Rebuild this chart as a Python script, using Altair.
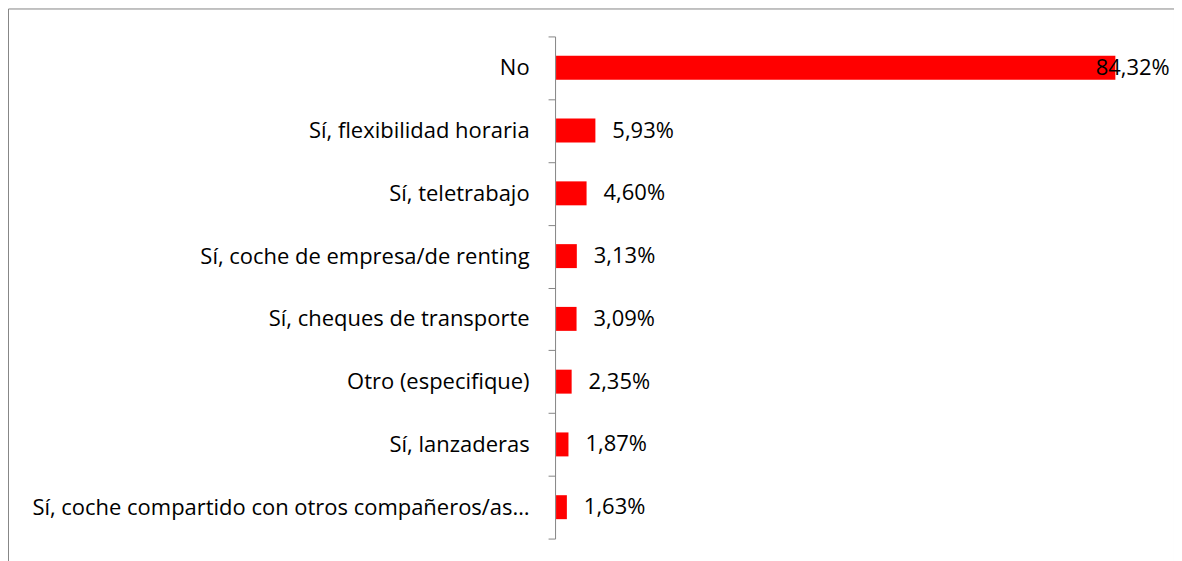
import altair as alt
import pandas as pd

categories = [
    "No",
    "Sí, flexibilidad horaria",
    "Sí, teletrabajo",
    "Sí, coche de empresa/de renting",
    "Sí, cheques de transporte",
    "Otro (especifique)",
    "Sí, lanzaderas",
    "Sí, coche compartido con otros compañeros/as…",
]
values = [84.32, 5.93, 4.60, 3.13, 3.09, 2.35, 1.87, 1.63]
labels = ["84,32%", "5,93%", "4,60%", "3,13%", "3,09%", "2,35%", "1,87%", "1,63%"]

df = pd.DataFrame({"cat": categories, "value": values, "label": labels})

FONT = "Open Sans"
FS = 22

y = alt.Y(
    "cat:N",
    sort=categories,
    title=None,
    scale=alt.Scale(range=[28, 531], paddingInner=0, paddingOuter=0),
    axis=alt.Axis(
        offset=-548,
        tickBand="extent",
        tickSize=7,
        tickColor="#868686",
        domainColor="#868686",
        labelFont=FONT,
        labelFontSize=FS,
        labelColor="#000000",
        labelPadding=19,
        labelLimit=0,
        grid=False,
    ),
)
xscale = alt.Scale(domain=[0, 90], range=[549, 1147])

bars = alt.Chart(df).mark_bar(color="#ff0000", size=24).encode(
    x=alt.X("value:Q", scale=xscale, axis=None),
    y=y,
)

text = alt.Chart(df).transform_calculate(
    lx="min(datum.value, 78.8)"
).mark_text(
    align="left", baseline="middle", dx=17, font=FONT, fontSize=FS, color="#000000"
).encode(
    x=alt.X("lx:Q", scale=xscale, axis=None),
    y=alt.Y("cat:N", sort=categories),
    text="label:N",
)

chart = (
    alt.layer(bars, text)
    .properties(width=1168, height=560, padding=0,
                autosize=alt.AutoSizeParams(type="none"))
    .configure_view(stroke="#868686", strokeWidth=1)
)

chart.save("out.html", embed_options={"renderer": "svg", "actions": False})
